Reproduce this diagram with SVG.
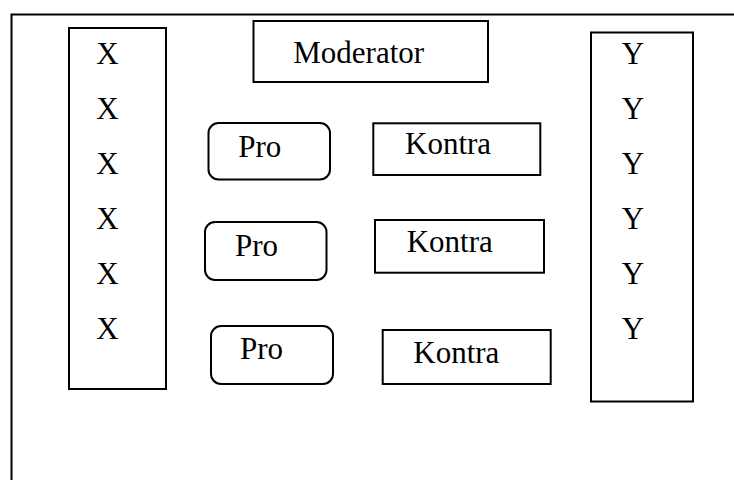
<svg xmlns="http://www.w3.org/2000/svg" width="734" height="480" viewBox="0 0 734 480">
<style>
.b{fill:#fff;stroke:#000;stroke-width:2}
text{font-family:'Liberation Serif','Times New Roman',Times,serif;font-size:31px;fill:#000}
.m{text-anchor:middle}
</style>
<rect width="734" height="480" fill="#fff"/>
<g id="frame"><path d="M11.5 480 V14.5 H734" fill="none" stroke="#000" stroke-width="2"/></g>
<g id="xcol">
<rect class="b" x="69" y="28" width="97" height="361"/>
<text class="m" x="107.5" y="63.5">X</text>
<text class="m" x="107.5" y="118.5">X</text>
<text class="m" x="107.5" y="173.5">X</text>
<text class="m" x="107.5" y="228.5">X</text>
<text class="m" x="107.5" y="283.5">X</text>
<text class="m" x="107.5" y="338.5">X</text>
</g>
<g id="ycol">
<rect class="b" x="591" y="32.5" width="102" height="369"/>
<text class="m" x="633" y="64">Y</text>
<text class="m" x="633" y="119">Y</text>
<text class="m" x="633" y="174">Y</text>
<text class="m" x="633" y="229">Y</text>
<text class="m" x="633" y="284">Y</text>
<text class="m" x="633" y="339">Y</text>
</g>
<g id="moderator">
<rect class="b" x="253.5" y="21" width="234.5" height="61"/>
<text x="293.3" y="62.7">Moderator</text>
</g>
<g id="pro1"><rect class="b" x="208.5" y="123" width="121.5" height="56.5" rx="10"/><text x="238.3" y="156.7">Pro</text></g>
<g id="kontra1"><rect class="b" x="373.3" y="123.3" width="167" height="51.7"/><text x="405" y="154.3">Kontra</text></g>
<g id="pro2"><rect class="b" x="205" y="222" width="121.5" height="58" rx="10"/><text x="235" y="255.7">Pro</text></g>
<g id="kontra2"><rect class="b" x="375" y="220" width="169" height="52.7"/><text x="406.7" y="251.7">Kontra</text></g>
<g id="pro3"><rect class="b" x="211" y="326" width="122" height="58" rx="10"/><text x="240" y="359.3">Pro</text></g>
<g id="kontra3"><rect class="b" x="382.7" y="330" width="168" height="54"/><text x="413.3" y="362.7">Kontra</text></g>
<g id="connectors"/>
</svg>
